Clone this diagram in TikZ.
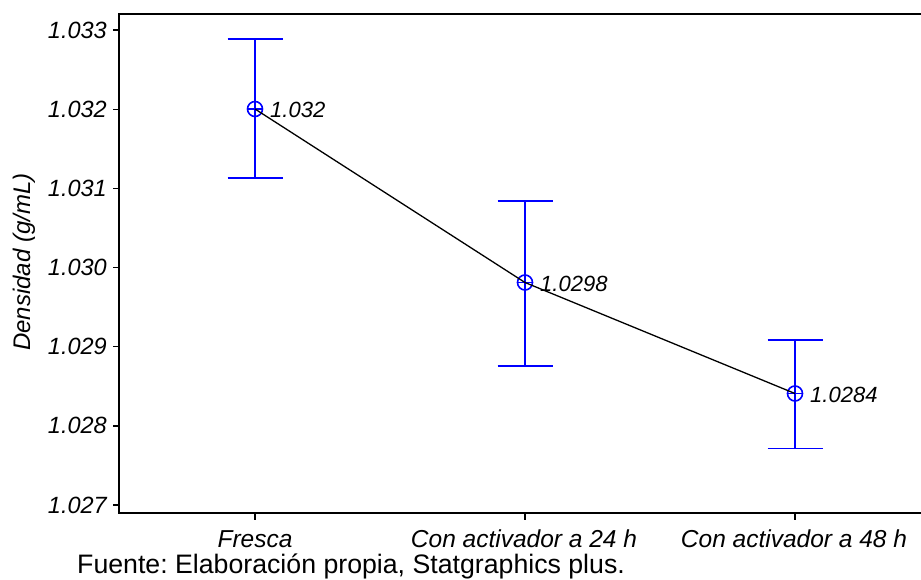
\documentclass[tikz,border=0pt]{standalone}
\usepackage{fontspec}
\setmainfont{Liberation Sans}
\frenchspacing
\begin{document}
\begin{tikzpicture}[x=1pt,y=-1pt,
  frame/.style={black,line width=1.6pt},
  tickline/.style={black,line width=1.3pt},
  ebar/.style={blue,line width=1.6pt},
  meanline/.style={black,line width=1.3pt},
  marker/.style={circle,draw=blue,line width=1.6pt,minimum size=15pt,inner sep=0pt},
  ticklab/.style={anchor=base east,inner sep=0pt,font=\fontsize{23.5}{26}\selectfont\itshape},
  xlab/.style={anchor=base,inner sep=0pt,font=\fontsize{24.5}{27}\selectfont\itshape},
  datalab/.style={anchor=base west,inner sep=0pt,font=\fontsize{22}{24}\selectfont\itshape}]
\useasboundingbox (0,0) rectangle (921,579);
% frame
\draw[frame] (921,14) -- (119,14) -- (119,513) -- (921,513);
% y ticks
\foreach \v/\y in {1.033/30,1.032/109.2,1.031/188.3,1.030/267.5,1.029/346.7,1.028/425.9,1.027/505}{
  \draw[tickline] (113,\y) -- (119,\y);
  \node[ticklab] at (107,\y+8) {\v};
}
% x ticks
\foreach \x in {255,525,795}{\draw[tickline] (\x,513) -- (\x,520);}
\node[xlab] (xl1) at (255,547.5) {Fresca};
\node[xlab] (xl2) at (524,547.5) {Con activador a 24 h};
\node[xlab] (xl3) at (794,547.5) {Con activador a 48 h};
% y label
\node[rotate=90,inner sep=0pt,font=\fontsize{24}{27}\selectfont\itshape] (ylab) at (24,262) {Densidad (g/mL)};
% footer
\node[anchor=base west,inner sep=0pt,font=\fontsize{26.7}{29}\selectfont] (foot) at (77,573) {Fuente: Elaboración propia, Statgraphics plus.};
% markers
\node[marker] (m1) at (255,109) {};
\node[marker] (m2) at (525,282.5) {};
\node[marker] (m3) at (795,393.5) {};
% error bars
\coordinate (t1) at (255,39);  \coordinate (b1) at (255,178);
\coordinate (t2) at (525,200.7); \coordinate (b2) at (525,365.7);
\coordinate (t3) at (795,339.7); \coordinate (b3) at (795,448.3);
\foreach \i in {1,2,3}{
  \draw[ebar] (t\i) -- (b\i);
  \draw[ebar] ([xshift=-27.5pt]t\i) -- ([xshift=27.5pt]t\i);
  \draw[ebar] ([xshift=-27.5pt]b\i) -- ([xshift=27.5pt]b\i);
  \draw[ebar] ([xshift=-7.5pt]m\i.center) -- ([xshift=7.5pt]m\i.center);
}
% mean line
\draw[meanline] (m1.center) -- (m2.center) -- (m3.center);
% data labels
\node[datalab] (d1) at (270,117) {1.032};
\node[datalab] (d2) at (540,291) {1.0298};
\node[datalab] (d3) at (810,402) {1.0284};
\end{tikzpicture}
\end{document}
